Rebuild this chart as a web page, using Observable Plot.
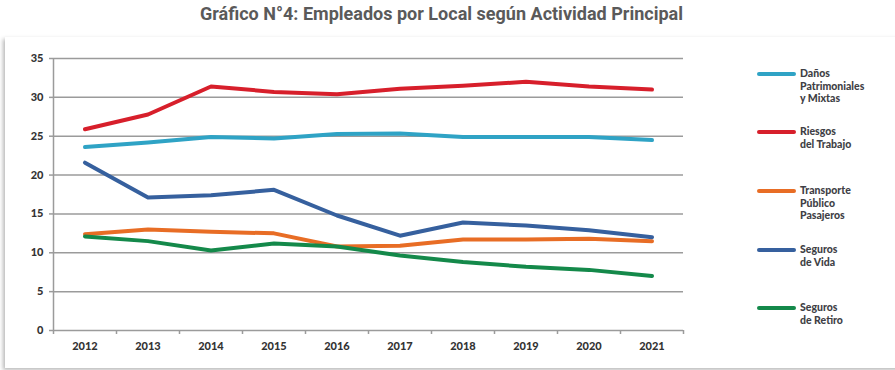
<!DOCTYPE html>
<html><head><meta charset="utf-8">
<script src="https://cdn.jsdelivr.net/npm/d3@7"></script>
<script src="https://cdn.jsdelivr.net/npm/@observablehq/plot@0.6"></script>
<style>
html,body{margin:0;padding:0;background:#fff;}
#wrap{position:relative;width:895px;height:370px;overflow:hidden;font-family:Lato,"Open Sans",sans-serif;}
#title{position:absolute;top:2px;left:0;width:895px;height:30px;}
#title span{position:absolute;white-space:nowrap;font-family:Roboto,sans-serif;font-weight:700;font-size:19px;color:#5a5a5a;top:0;}
#frame{position:absolute;top:37px;left:5px;width:900px;height:331px;box-shadow:-2px 2px 4px rgba(0,0,0,0.28);background:#fff;}
#chart{position:absolute;top:37px;left:0;}
.lg{position:absolute;left:757px;width:39px;height:4px;border-radius:2px;}
.lt{position:absolute;left:800px;font-family:Lato,sans-serif;font-weight:900;font-size:10.5px;line-height:12.6px;color:#3f3f46;}
</style></head>
<body><div id="wrap">
<div id="title"><span id="tt">Gráfico N°4: Empleados por Local según Actividad Principal</span></div>
<div id="frame"></div>
<div id="chart"></div>
</div>
<script>
const years = [2012,2013,2014,2015,2016,2017,2018,2019,2020,2021];
const seriesNames = ["Daños Patrimoniales y Mixtas","Riesgos del Trabajo","Transporte Público Pasajeros","Seguros de Vida","Seguros de Retiro"];
const legendLines = [["Daños","Patrimoniales","y Mixtas"],["Riesgos","del Trabajo"],["Transporte","Público","Pasajeros"],["Seguros","de Vida"],["Seguros","de Retiro"]];
const colors = ["#2fa3c5","#d71f2b","#e86d25","#36609e","#14894a"];
const danos     = [23.6,24.2,24.9,24.7,25.3,25.35,24.9,24.9,24.9,24.5];
const riesgos   = [25.9,27.8,31.4,30.7,30.4,31.1,31.5,32.0,31.4,31.0];
const transporte= [12.4,13.0,12.7,12.5,10.8,10.9,11.7,11.7,11.8,11.5];
const vida      = [21.6,17.1,17.4,18.1,14.8,12.2,13.9,13.5,12.9,12.0];
const retiro    = [12.1,11.5,10.3,11.2,10.8,9.65,8.8,8.2,7.8,7.0];
const yTicks = [0,5,10,15,20,25,30,35];

const seriesValues = [danos,riesgos,transporte,vida,retiro];
const data = seriesNames.flatMap((s,i)=>years.map((y,j)=>({series:s,year:y,value:seriesValues[i][j]})));
const bounds = years.map(y=>y-0.5).concat([years[years.length-1]+0.5]);

const chart = Plot.plot({
  width:895, height:333,
  marginTop:21, marginBottom:40, marginLeft:53, marginRight:212,
  style:{fontFamily:"Lato, sans-serif", fontWeight:"900", fontSize:"11px", color:"#333", background:"transparent"},
  x:{domain:[bounds[0],bounds[bounds.length-1]]},
  y:{domain:[0,35]},
  color:{domain:seriesNames, range:colors},
  marks:[
    Plot.gridY(yTicks,{stroke:"#9b9b9b", strokeOpacity:1, strokeWidth:1.5}),
    Plot.ruleX([bounds[0]],{stroke:"#9b9b9b", strokeWidth:1.5}),
    Plot.axisY({ticks:yTicks, tickSize:4, tickPadding:6, label:null, stroke:"#9b9b9b", strokeWidth:1.5, fill:"#333"}),
    Plot.axisX({ticks:bounds, tickSize:4, tickFormat:()=>"", label:null, stroke:"#9b9b9b", strokeWidth:1.5}),
    Plot.axisX({ticks:years, tickSize:0, tickPadding:12, tickFormat:d=>String(d), label:null, fill:"#333"}),
    Plot.line(data,{x:"year", y:"value", z:"series", stroke:"series", strokeWidth:4, strokeLinecap:"round", strokeLinejoin:"round"})
  ]
});
document.getElementById("chart").appendChild(chart);

// legend
const legendY = [74,132,191,250,308];
const wrap = document.getElementById("wrap");
seriesNames.forEach((s,i)=>{
  const l = document.createElement("div");
  l.className="lg"; l.style.top=(legendY[i]-2)+"px"; l.style.background=colors[i];
  wrap.appendChild(l);
  const t = document.createElement("div");
  t.className="lt"; t.style.top=(legendY[i]-7)+"px";
  t.innerHTML = legendLines[i].join("<br>");
  wrap.appendChild(t);
});
// title fit
const tt = document.getElementById("tt");
const w = tt.getBoundingClientRect().width;
const target = 483, cx = 441;
tt.style.transformOrigin="0 0";
tt.style.transform=`scaleX(${target/w})`;
tt.style.left=(cx-target/2)+"px";
</script>
</body></html>
